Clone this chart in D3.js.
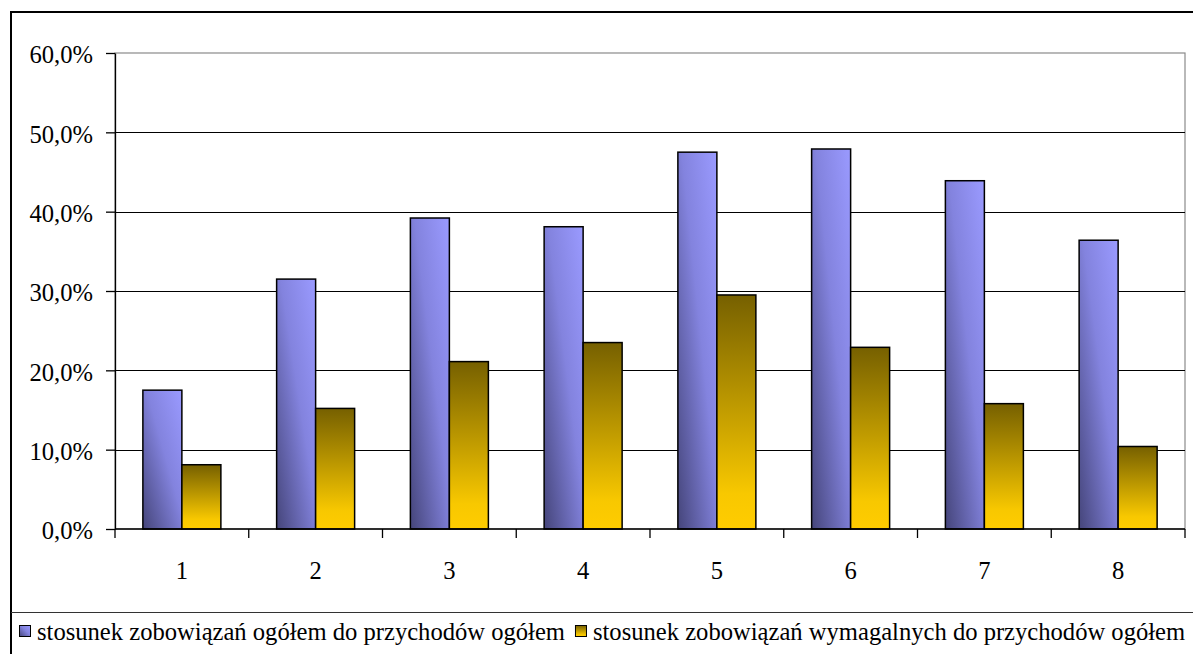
<!DOCTYPE html>
<html>
<head>
<meta charset="utf-8">
<script src="https://cdn.jsdelivr.net/npm/d3@7"></script>
<style>
  html, body { margin: 0; padding: 0; background: #fff; }
  svg { display: block; }
  text { font-family: "Liberation Serif", "Times New Roman", serif; fill: #000; }
</style>
</head>
<body>
<svg id="chart" width="1193" height="654"></svg>
<script>
// Categories and the two ratios (percent) for each of them
const categories = ["1", "2", "3", "4", "5", "6", "7", "8"];
const totalRatio = [17.5, 31.5, 39.2, 38.1, 47.5, 47.9, 43.9, 36.4];
const dueRatio = [8.1, 15.2, 21.1, 23.5, 29.5, 22.9, 15.8, 10.4];
const seriesNames = [
  "stosunek zobowiązań ogółem do przychodów ogółem",
  "stosunek zobowiązań wymagalnych do przychodów ogółem"
];
const yTicks = [0, 10, 20, 30, 40, 50, 60];

const svg = d3.select("#chart");
const W = 1193, H = 654;
const plot = { left: 115, top: 53, right: 1185, bottom: 529 };
const FONT = 24.6;

// Gradients for the two series
const defs = svg.append("defs");
const gBlue = defs.append("linearGradient").attr("id", "gradBlue")
  .attr("x1", 0).attr("y1", 1).attr("x2", 1).attr("y2", 0);
gBlue.append("stop").attr("offset", 0).attr("stop-color", "#45457a");
gBlue.append("stop").attr("offset", 0.55).attr("stop-color", "#8383de");
gBlue.append("stop").attr("offset", 1).attr("stop-color", "#9a9aff");
const gGold = defs.append("linearGradient").attr("id", "gradGold")
  .attr("x1", 0).attr("y1", 0).attr("x2", 0).attr("y2", 1);
gGold.append("stop").attr("offset", 0).attr("stop-color", "#766000");
gGold.append("stop").attr("offset", 0.85).attr("stop-color", "#f8c800");
gGold.append("stop").attr("offset", 1).attr("stop-color", "#ffcc00");

// Outer chart frame (open at right and bottom edges of the page)
svg.append("rect")
  .attr("x", 11).attr("y", 12)
  .attr("width", W + 20).attr("height", H + 20)
  .attr("fill", "#fff").attr("stroke", "#000").attr("stroke-width", 2);

const x = d3.scaleBand().domain(categories).range([plot.left, plot.right]).padding(0);
const y = d3.scaleLinear().domain([0, 60]).range([plot.bottom, plot.top]);

// Plot area border
svg.append("rect")
  .attr("x", plot.left).attr("y", plot.top)
  .attr("width", plot.right - plot.left).attr("height", plot.bottom - plot.top)
  .attr("fill", "#fff").attr("stroke", "#8a8a8a").attr("stroke-width", 1.2);

// Horizontal gridlines
svg.append("g").selectAll("line")
  .data(yTicks.filter(d => d > 0 && d < 60))
  .join("line")
  .attr("x1", plot.left).attr("x2", plot.right)
  .attr("y1", d => Math.round(y(d)) + 0.5).attr("y2", d => Math.round(y(d)) + 0.5)
  .attr("stroke", "#000").attr("stroke-width", 1);

// Bars
const barW = 39;
const series = [
  { values: totalRatio, fill: "url(#gradBlue)", offset: -barW },
  { values: dueRatio, fill: "url(#gradGold)", offset: 0 }
];
series.forEach(s => {
  svg.append("g").selectAll("rect")
    .data(categories.map((c, i) => ({ c, v: s.values[i] })))
    .join("rect")
    .attr("x", d => x(d.c) + x.bandwidth() / 2 + s.offset)
    .attr("y", d => y(d.v))
    .attr("width", barW)
    .attr("height", d => y(0) - y(d.v))
    .attr("fill", s.fill)
    .attr("stroke", "#000").attr("stroke-width", 1.5);
});

// Y axis
const yAxis = d3.axisLeft(y).tickValues(yTicks)
  .tickFormat(d => d.toFixed(1).replace(".", ",") + "%")
  .tickSizeInner(9).tickSizeOuter(0).tickPadding(13);
const ya = svg.append("g").attr("transform", `translate(${plot.left},0)`).call(yAxis);
ya.attr("font-family", null);
ya.select(".domain").attr("stroke", "#000").attr("stroke-width", 1.3);
ya.selectAll(".tick line").attr("stroke", "#000").attr("stroke-width", 1.3);
ya.selectAll(".tick text")
  .attr("font-size", FONT).attr("dy", "0.40em");

// X axis with ticks at category boundaries
const xa = svg.append("g").attr("transform", `translate(0,${plot.bottom})`);
xa.append("line").attr("x1", plot.left).attr("x2", plot.right)
  .attr("stroke", "#000").attr("stroke-width", 1.3);
const boundaries = categories.map(c => x(c)).concat([plot.right]);
xa.selectAll("line.b").data(boundaries).join("line").attr("class", "b")
  .attr("x1", d => d).attr("x2", d => d).attr("y1", 0).attr("y2", 9)
  .attr("stroke", "#000").attr("stroke-width", 1.3);
xa.selectAll("text").data(categories).join("text")
  .attr("x", d => x(d) + x.bandwidth() / 2)
  .attr("y", 50)
  .attr("text-anchor", "middle")
  .attr("font-size", FONT)
  .text(d => d);

// Legend separator and legend entries
svg.append("line")
  .attr("x1", 11).attr("x2", W)
  .attr("y1", 612.5).attr("y2", 612.5)
  .attr("stroke", "#333").attr("stroke-width", 1.2);

const legend = svg.append("g");
let lx = 19;
const swatchFills = ["url(#gradBlue)", "url(#gradGold)"];
seriesNames.forEach((name, i) => {
  legend.append("rect")
    .attr("x", lx + 0.5).attr("y", 625.5)
    .attr("width", 11).attr("height", 11)
    .attr("fill", swatchFills[i]).attr("stroke", "#000").attr("stroke-width", 1);
  const t = legend.append("text")
    .attr("x", lx + 18).attr("y", 640)
    .attr("font-size", FONT)
    .text(name);
  lx = lx + 18 + t.node().getComputedTextLength() + 10;
});
</script>
</body>
</html>
